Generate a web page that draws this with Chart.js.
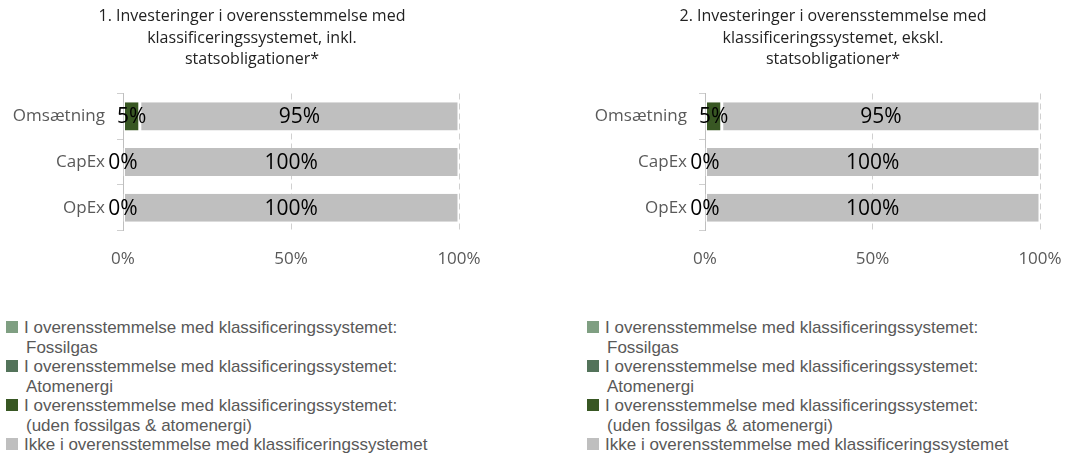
<!DOCTYPE html>
<html>
<head>
<meta charset="utf-8">
<script src="https://cdn.jsdelivr.net/npm/chart.js@4/dist/chart.umd.min.js"></script>
<style>
  html, body { margin: 0; padding: 0; background: #fff; overflow: hidden; }
  body { width: 1069px; height: 455px; position: relative; }
  .box { position: absolute; top: 0; height: 293px; }
  .legend { position: absolute; top: 318px; font-family: "Liberation Sans", Arial, sans-serif; font-size: 17px; color: #595959; line-height: 19.5px; }
  .legend .item { position: relative; padding-left: 18px; }
  .legend .sw { position: absolute; left: 0; top: 3px; width: 12px; height: 12px; }
  .legend .l2 { padding-left: 2px; }
</style>
</head>
<body>
<div class="box" style="left:0;width:504px"><canvas id="chart1"></canvas></div>
<div class="box" style="left:580px;width:506px"><canvas id="chart2"></canvas></div>
<div class="legend" id="legend1" style="left:6px"></div>
<div class="legend" id="legend2" style="left:587px"></div>
<script>
(() => {
  'use strict'

  // Data
  const categories = ['Omsætning', 'CapEx', 'OpEx'];
  const seriesNames = [
    ['I overensstemmelse med klassificeringssystemet:', 'Fossilgas'],
    ['I overensstemmelse med klassificeringssystemet:', 'Atomenergi'],
    ['I overensstemmelse med klassificeringssystemet:', '(uden fossilgas & atomenergi)'],
    ['Ikke i overensstemmelse med klassificeringssystemet']
  ];
  const seriesColors = ['#7f9f82', '#53735a', '#385723', '#bfbfbf'];
  const showLabels = [false, false, true, true];

  // chart 1: inkl. statsobligationer
  const fossilgas1 = [0, 0, 0];
  const atomenergi1 = [0, 0, 0];
  const uden1 = [5, 0, 0];
  const ikke1 = [95, 100, 100];

  // chart 2: ekskl. statsobligationer
  const fossilgas2 = [0, 0, 0];
  const atomenergi2 = [0, 0, 0];
  const uden2 = [5, 0, 0];
  const ikke2 = [95, 100, 100];

  const xTicks = [0, 50, 100];

  const title1 = ['1. Investeringer i overensstemmelse med', 'klassificeringssystemet, inkl.', 'statsobligationer*'];
  const title2 = ['2. Investeringer i overensstemmelse med', 'klassificeringssystemet, ekskl.', 'statsobligationer*'];

  const txtFont = '"Open Sans", sans-serif';

  // draws the value labels in the middle of each bar
  const barLabels = {
    id: 'barLabels',
    afterDatasetsDraw(chart) {
      const c = chart.ctx;
      c.save();
      c.font = '21px ' + txtFont;
      c.fillStyle = '#000';
      c.textAlign = 'center';
      c.textBaseline = 'middle';
      chart.data.datasets.forEach((ds, i) => {
        if (!showLabels[i]) return;
        chart.getDatasetMeta(i).data.forEach((bar, j) => {
          const mid = (bar.x + bar.base) / 2;
          c.fillText(ds.data[j] + '%', mid, bar.y + 1);
        });
      });
      c.restore();
    }
  };

  const makeChart = (id, title, values, leftWidth, rightWidth) => {
    const ctx = document.getElementById(id).getContext('2d');
    const datasets = values.map((vals, i) => ({
      label: seriesNames[i].join(' '),
      data: vals,
      backgroundColor: seriesColors[i],
      borderColor: '#ffffff',
      borderWidth: { left: 1.5, right: 1.5, top: 0, bottom: 0 },
      borderSkipped: false,
      barPercentage: 0.615,
      categoryPercentage: 1
    }));
    return new Chart(ctx, {
      type: 'bar',
      data: { labels: categories, datasets: datasets },
      plugins: [barLabels],
      options: {
        indexAxis: 'y',
        responsive: true,
        maintainAspectRatio: false,
        animation: false,
        layout: { padding: { top: 0, bottom: 6, left: 0, right: 0 } },
        plugins: {
          legend: { display: false },
          tooltip: { enabled: false },
          title: {
            display: true,
            text: title,
            color: '#222',
            font: { family: txtFont, size: 16, weight: 'normal', lineHeight: 1.344 },
            padding: { top: 6, bottom: 23 }
          }
        },
        scales: {
          x: {
            stacked: true,
            min: 0,
            max: 100,
            afterBuildTicks: (s) => { s.ticks = xTicks.map(v => ({ value: v })); },
            ticks: {
              callback: (v) => v + '%',
              color: '#595959',
              font: { family: txtFont, size: 17 },
              padding: 18
            },
            grid: { color: '#d0d0d0', drawTicks: false, lineWidth: 1 },
            border: { display: false, dash: [6, 4] }
          },
          y: {
            stacked: true,
            afterFit: (s) => { s.width = leftWidth; },
            ticks: {
              color: '#595959',
              font: { family: txtFont, size: 17 },
              padding: 12
            },
            grid: { drawOnChartArea: false, drawTicks: true, tickLength: 6, color: '#cfcfcf' },
            border: { display: true, color: '#bfbfbf' }
          },
          yPad: {
            position: 'right',
            grid: { display: false },
            border: { display: false },
            ticks: { display: false },
            afterFit: (s) => { s.width = rightWidth; }
          }
        }
      }
    });
  };

  makeChart('chart1', title1, [fossilgas1, atomenergi1, uden1, ikke1], 123, 45);
  makeChart('chart2', title2, [fossilgas2, atomenergi2, uden2, ikke2], 125, 46);

  // HTML legends
  const buildLegend = (id) => {
    const el = document.getElementById(id);
    seriesNames.forEach((name, i) => {
      const item = document.createElement('div');
      item.className = 'item';
      const sw = document.createElement('span');
      sw.className = 'sw';
      sw.style.background = seriesColors[i];
      item.appendChild(sw);
      name.forEach((line, k) => {
        const d = document.createElement('div');
        if (k > 0) d.className = 'l2';
        d.textContent = line;
        item.appendChild(d);
      });
      el.appendChild(item);
    });
  };
  buildLegend('legend1');
  buildLegend('legend2');
})()
</script>
</body>
</html>
